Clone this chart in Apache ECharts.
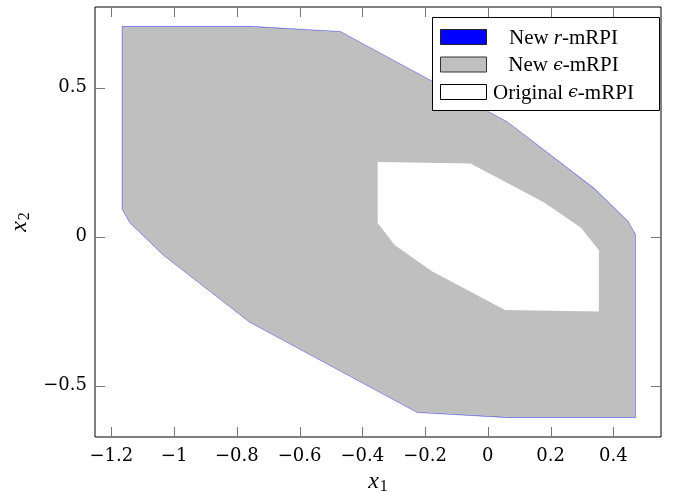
<!DOCTYPE html>
<html>
<head>
<meta charset="utf-8">
<script src="https://cdn.jsdelivr.net/npm/echarts@6/dist/echarts.min.js"></script>
<style>html,body{margin:0;padding:0;background:#fff}#c{width:673px;height:492px}</style>
</head>
<body>
<div id="c"></div>
<script>
// Tick labels
const xTicks = [-1.2, -1, -0.8, -0.6, -0.4, -0.2, 0, 0.2, 0.4];
const yTicks = [-0.5, 0, 0.5];

// New r-mRPI (drawn underneath, visible as thin blue rim)
const rMRPI = [
  [-1.166, 0.706], [-0.756, 0.706], [-0.470, 0.689], [0.062, 0.386],
  [0.339, 0.163], [0.447, 0.052], [0.471, 0.007], [0.471, -0.607],
  [0.065, -0.607], [-0.225, -0.590], [-0.759, -0.287], [-1.034, -0.062],
  [-1.141, 0.047], [-1.166, 0.093]
];
// New epsilon-mRPI
const newEps = [
  [-1.165, 0.705], [-0.756, 0.705], [-0.470, 0.688], [0.062, 0.385],
  [0.338, 0.162], [0.446, 0.052], [0.470, 0.007], [0.470, -0.606],
  [0.065, -0.606], [-0.225, -0.589], [-0.759, -0.286], [-1.033, -0.062],
  [-1.140, 0.047], [-1.165, 0.093]
];
// Original epsilon-mRPI
const origEps = [
  [-0.351, 0.251], [-0.055, 0.246], [0.178, 0.116], [0.297, 0.030],
  [0.354, -0.045], [0.354, -0.251], [0.055, -0.246], [-0.178, -0.116],
  [-0.297, -0.028], [-0.351, 0.046]
];

const SERIF = "'Liberation Serif', 'Times New Roman', Times, serif";
const DSERIF = "'DejaVu Serif', 'Liberation Serif', serif";
const fmt = v => (v < 0 ? '\u2212' + String(Math.abs(v)) : String(v));
const XMIN = -1.252, XMAX = 0.552, YMIN = -0.672, YMAX = 0.771;
const TL = 10;

function polySeries(name, verts, fill, stroke, lw) {
  return {
    type: 'custom', name: name, data: verts, encode: {x: 0, y: 1},
    silent: true, animation: false, clip: true,
    renderItem: function (params, api) {
      if (params.dataIndex !== 0) return null;
      const pts = verts.map(v => api.coord(v));
      return {type: 'polygon', shape: {points: pts},
        style: {fill: fill, stroke: stroke, lineWidth: lw}};
    }
  };
}

// inside ticks on all four sides, positioned through the axes
const tickSeries = {
  type: 'custom', name: 'ticks', silent: true, animation: false, clip: false, z: 5,
  data: [0], encode: {x: -1, y: -1},
  renderItem: function (params, api) {
    const children = [];
    const ls = {stroke: '#777', lineWidth: 1};
    xTicks.forEach(v => {
      const b = api.coord([v, YMIN]), t = api.coord([v, YMAX]);
      const x = Math.round(b[0]) + 0.5;
      children.push({type: 'line', shape: {x1: x, y1: b[1], x2: x, y2: b[1] - TL}, style: ls});
      children.push({type: 'line', shape: {x1: x, y1: t[1], x2: x, y2: t[1] + TL}, style: ls});
    });
    yTicks.forEach(v => {
      const l = api.coord([XMIN, v]), r = api.coord([XMAX, v]);
      const y = Math.round(l[1]) + 0.5;
      children.push({type: 'line', shape: {x1: l[0], y1: y, x2: l[0] + TL, y2: y}, style: ls});
      children.push({type: 'line', shape: {x1: r[0], y1: y, x2: r[0] - TL, y2: y}, style: ls});
    });
    return {type: 'group', children: children};
  }
};

const tickFont = {fontFamily: DSERIF, fontSize: 18, color: '#000'};
const nameRich = {
  i: {fontFamily: SERIF, fontStyle: 'italic', fontSize: 24, color: '#000'},
  s: {fontFamily: SERIF, fontSize: 16, color: '#000', padding: [10, 0, 0, 1]}
};

const chart = echarts.init(document.getElementById('c'), null, {renderer: 'canvas'});
chart.setOption({
  animation: false,
  backgroundColor: '#fff',
  grid: {left: 95, right: 12, top: 7, bottom: 55, containLabel: false, outerBoundsMode: 'none',
    show: true, borderColor: '#000', borderWidth: 1, backgroundColor: 'transparent'},
  xAxis: {
    type: 'value', min: XMIN, max: XMAX, position: 'bottom',
    axisLine: {show: false}, splitLine: {show: false}, axisTick: {show: false},
    axisLabel: Object.assign({customValues: xTicks, formatter: fmt, margin: 10}, tickFont),
    name: '{i|x}{s|1}', nameLocation: 'middle', nameGap: 32,
    nameTextStyle: {rich: nameRich}
  },
  yAxis: {
    type: 'value', min: YMIN, max: YMAX, position: 'left',
    axisLine: {show: false}, splitLine: {show: false}, axisTick: {show: false},
    axisLabel: Object.assign({customValues: yTicks, formatter: fmt, margin: 8}, tickFont),
    name: '{i|x}{s|2}', nameLocation: 'middle', nameGap: 62, nameRotate: 90,
    nameTextStyle: {rich: nameRich}
  },
  series: [
    polySeries('New r-mRPI', rMRPI, '#0000ff', '#9a9af0', 0.6),
    polySeries('New \u03f5-mRPI', newEps, '#bfbfbf', null, 0),
    polySeries('Original \u03f5-mRPI', origEps, '#ffffff', null, 0),
    tickSeries
  ],
  graphic: [{
    type: 'group', left: 432, top: 17, z: 100,
    children: [
      {type: 'rect', z: 100, shape: {x: 0.5, y: 0.5, width: 227, height: 93}, style: {fill: '#fff', stroke: '#000', lineWidth: 1}},
      {type: 'text', z: 101, x: 131.5, y: 21, style: {text: '{n|New }{i|r}{n|-mRPI}', align: 'center', verticalAlign: 'middle',
        rich: {n: {fontFamily: SERIF, fontSize: 21, fill: '#000'}, i: {fontFamily: SERIF, fontStyle: 'italic', fontSize: 21, fill: '#000'}}}},
      {type: 'text', z: 101, x: 131.5, y: 48.5, style: {text: '{n|New }{i|\u03f5}{n|-mRPI}', align: 'center', verticalAlign: 'middle',
        rich: {n: {fontFamily: SERIF, fontSize: 21, fill: '#000'}, i: {fontFamily: DSERIF, fontStyle: 'italic', fontSize: 17, fill: '#000'}}}},
      {type: 'text', z: 101, x: 131.5, y: 76, style: {text: '{n|Original }{i|\u03f5}{n|-mRPI}', align: 'center', verticalAlign: 'middle',
        rich: {n: {fontFamily: SERIF, fontSize: 21, fill: '#000'}, i: {fontFamily: DSERIF, fontStyle: 'italic', fontSize: 17, fill: '#000'}}}},
      {type: 'rect', z: 102, shape: {x: 8.5, y: 12.5, width: 46, height: 15}, style: {fill: '#0000ff', stroke: '#222', lineWidth: 1}},
      {type: 'rect', z: 102, shape: {x: 8.5, y: 40, width: 46, height: 15}, style: {fill: '#bfbfbf', stroke: '#333', lineWidth: 1}},
      {type: 'rect', z: 102, shape: {x: 8.5, y: 67.5, width: 46, height: 15}, style: {fill: '#ffffff', stroke: '#000', lineWidth: 1}}
    ]
  }]
});
</script>
</body>
</html>
